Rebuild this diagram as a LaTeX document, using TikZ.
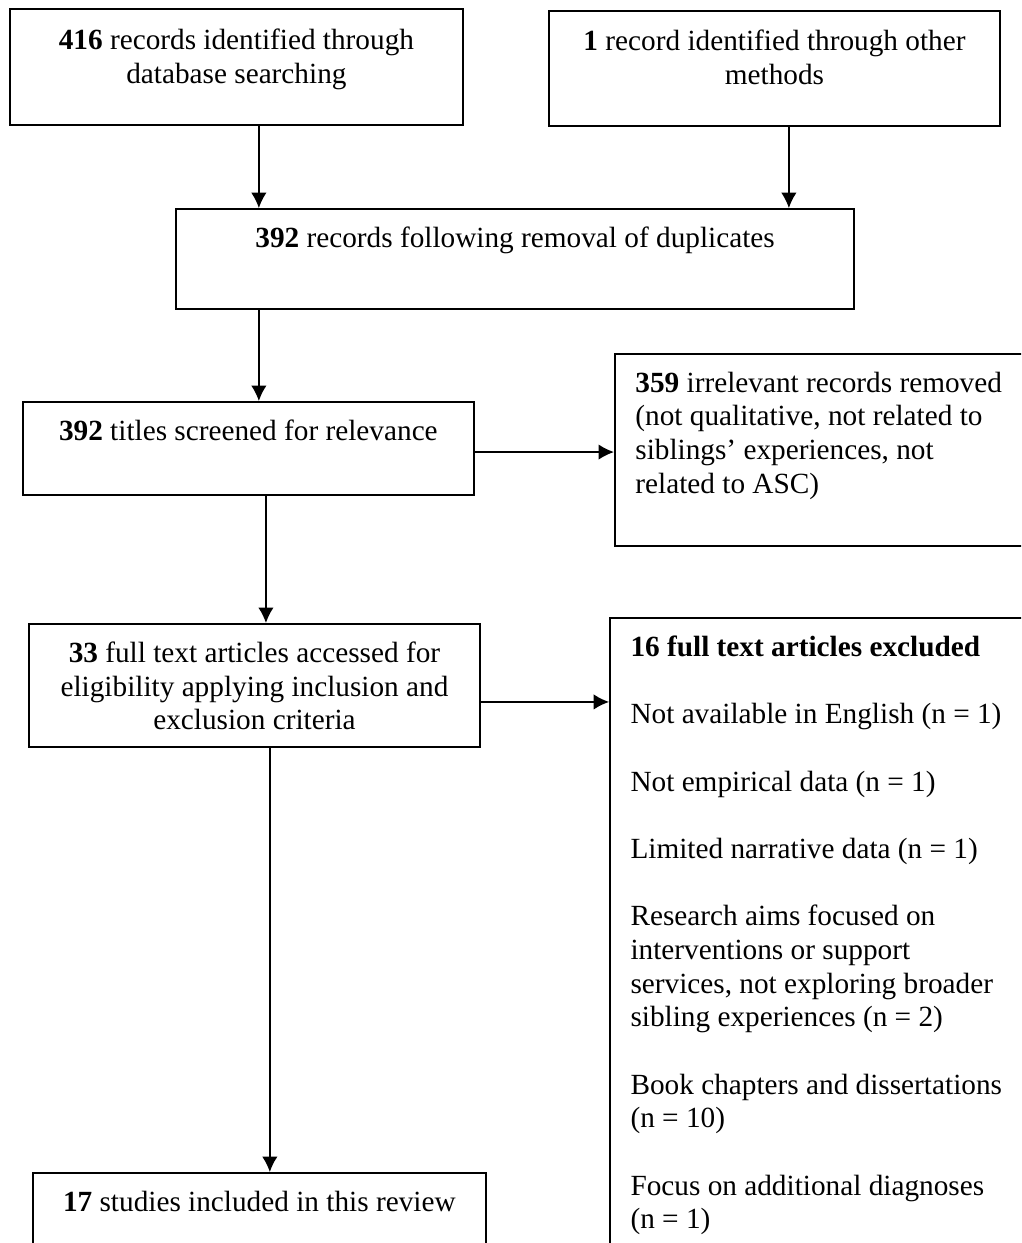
\documentclass[tikz,border=0pt]{standalone}
\usepackage{fontspec}
\setmainfont{Liberation Serif}
\usetikzlibrary{arrows.meta,positioning}

\begin{document}
\begin{tikzpicture}[x=1pt, y=-1pt, >={Latex[length=6.3pt,width=6.3pt]},
    box/.style={draw, line width=0.75pt, anchor=north west, inner sep=0pt},
    txt/.style={anchor=north, align=center, inner sep=0pt, font=\fontsize{12}{13.8}\selectfont},
    txtl/.style={txt, anchor=north west, align=left},
    arr/.style={->, line width=0.6pt}]
    \useasboundingbox (0,0) rectangle (418.6,509.6);
    \clip (0,0) rectangle (418.6,509.6);

    \node[box, minimum width=185.7pt, minimum height=47.6pt] (search) at (3.7,3.3) {};
    \node[txt, below=8.5pt of search.north] (searchT) {\textbf{416} records identified through\\ database searching};
    \node[box, minimum width=184.9pt, minimum height=47.2pt] (other) at (224.7,4.1) {};
    \node[txt, below=8pt of other.north] (otherT) {\textbf{1} record identified through other\\ methods};
    \node[box, minimum width=278pt, minimum height=41pt] (dedup) at (71.8,85.3) {};
    \node[txt, below=7.5pt of dedup.north] (dedupT) {\textbf{392} records following removal of duplicates};
    \node[box, minimum width=184.9pt, minimum height=38.1pt] (screen) at (9,164.4) {};
    \node[txt, below=7.5pt of screen.north] (screenT) {\textbf{392} titles screened for relevance};
    \node[box, minimum width=175pt, minimum height=78.7pt] (irrel) at (251.7,144.7) {};
    \node[txtl, below right=7.5pt and 8.6pt of irrel.north west] (irrelT) {\textbf{359} irrelevant records removed\\ (not qualitative, not related to\\ siblings' experiences, not\\ related to ASC)};
    \node[box, minimum width=184.9pt, minimum height=50.4pt] (full) at (11.5,255.4) {};
    \node[txt, below=7.5pt of full.north] (fullT) {\textbf{33} full text articles accessed for\\ eligibility applying inclusion and\\ exclusion criteria};
    \node[box, minimum width=175pt, minimum height=270pt] (excl) at (249.7,253) {};
    \node[txtl, below right=7.5pt and 8.6pt of excl.north west] (exclT) {\textbf{16 full text articles excluded}\\[13.8pt]
        Not available in English (n = 1)\\[13.8pt]
        Not empirical data (n = 1)\\[13.8pt]
        Limited narrative data (n = 1)\\[13.8pt]
        Research aims focused on\\ interventions or support\\ services, not exploring broader\\ sibling experiences (n = 2)\\[13.8pt]
        Book chapters and dissertations\\ (n = 10)\\[13.8pt]
        Focus on additional diagnoses\\ (n = 1)};
    \node[box, minimum width=185.7pt, minimum height=40pt] (incl) at (13.1,480.5) {};
    \node[txt, below=7.5pt of incl.north] (inclT) {\textbf{17} studies included in this review};

    \path (search.south) ++(9.2pt,0) coordinate (a1);
    \draw[arr] (a1) -- (a1 |- dedup.north);
    \path (other.south) ++(5.9pt,0) coordinate (a2);
    \draw[arr] (a2) -- (a2 |- dedup.north);
    \draw[arr] (a1 |- dedup.south) -- (a1 |- screen.north);
    \path ([yshift=-1.5pt]screen.east) coordinate (a3);
    \draw[arr] (a3) -- (a3 -| irrel.west);
    \path (screen.south) ++(7.2pt,0) coordinate (a4);
    \draw[arr] (a4) -- (a4 |- full.north);
    \path ([yshift=-6.8pt]full.east) coordinate (a5);
    \draw[arr] (a5) -- (a5 -| excl.west);
    \path (full.south) ++(6.3pt,0) coordinate (a6);
    \draw[arr] (a6) -- (a6 |- incl.north);
\end{tikzpicture}
\end{document}
